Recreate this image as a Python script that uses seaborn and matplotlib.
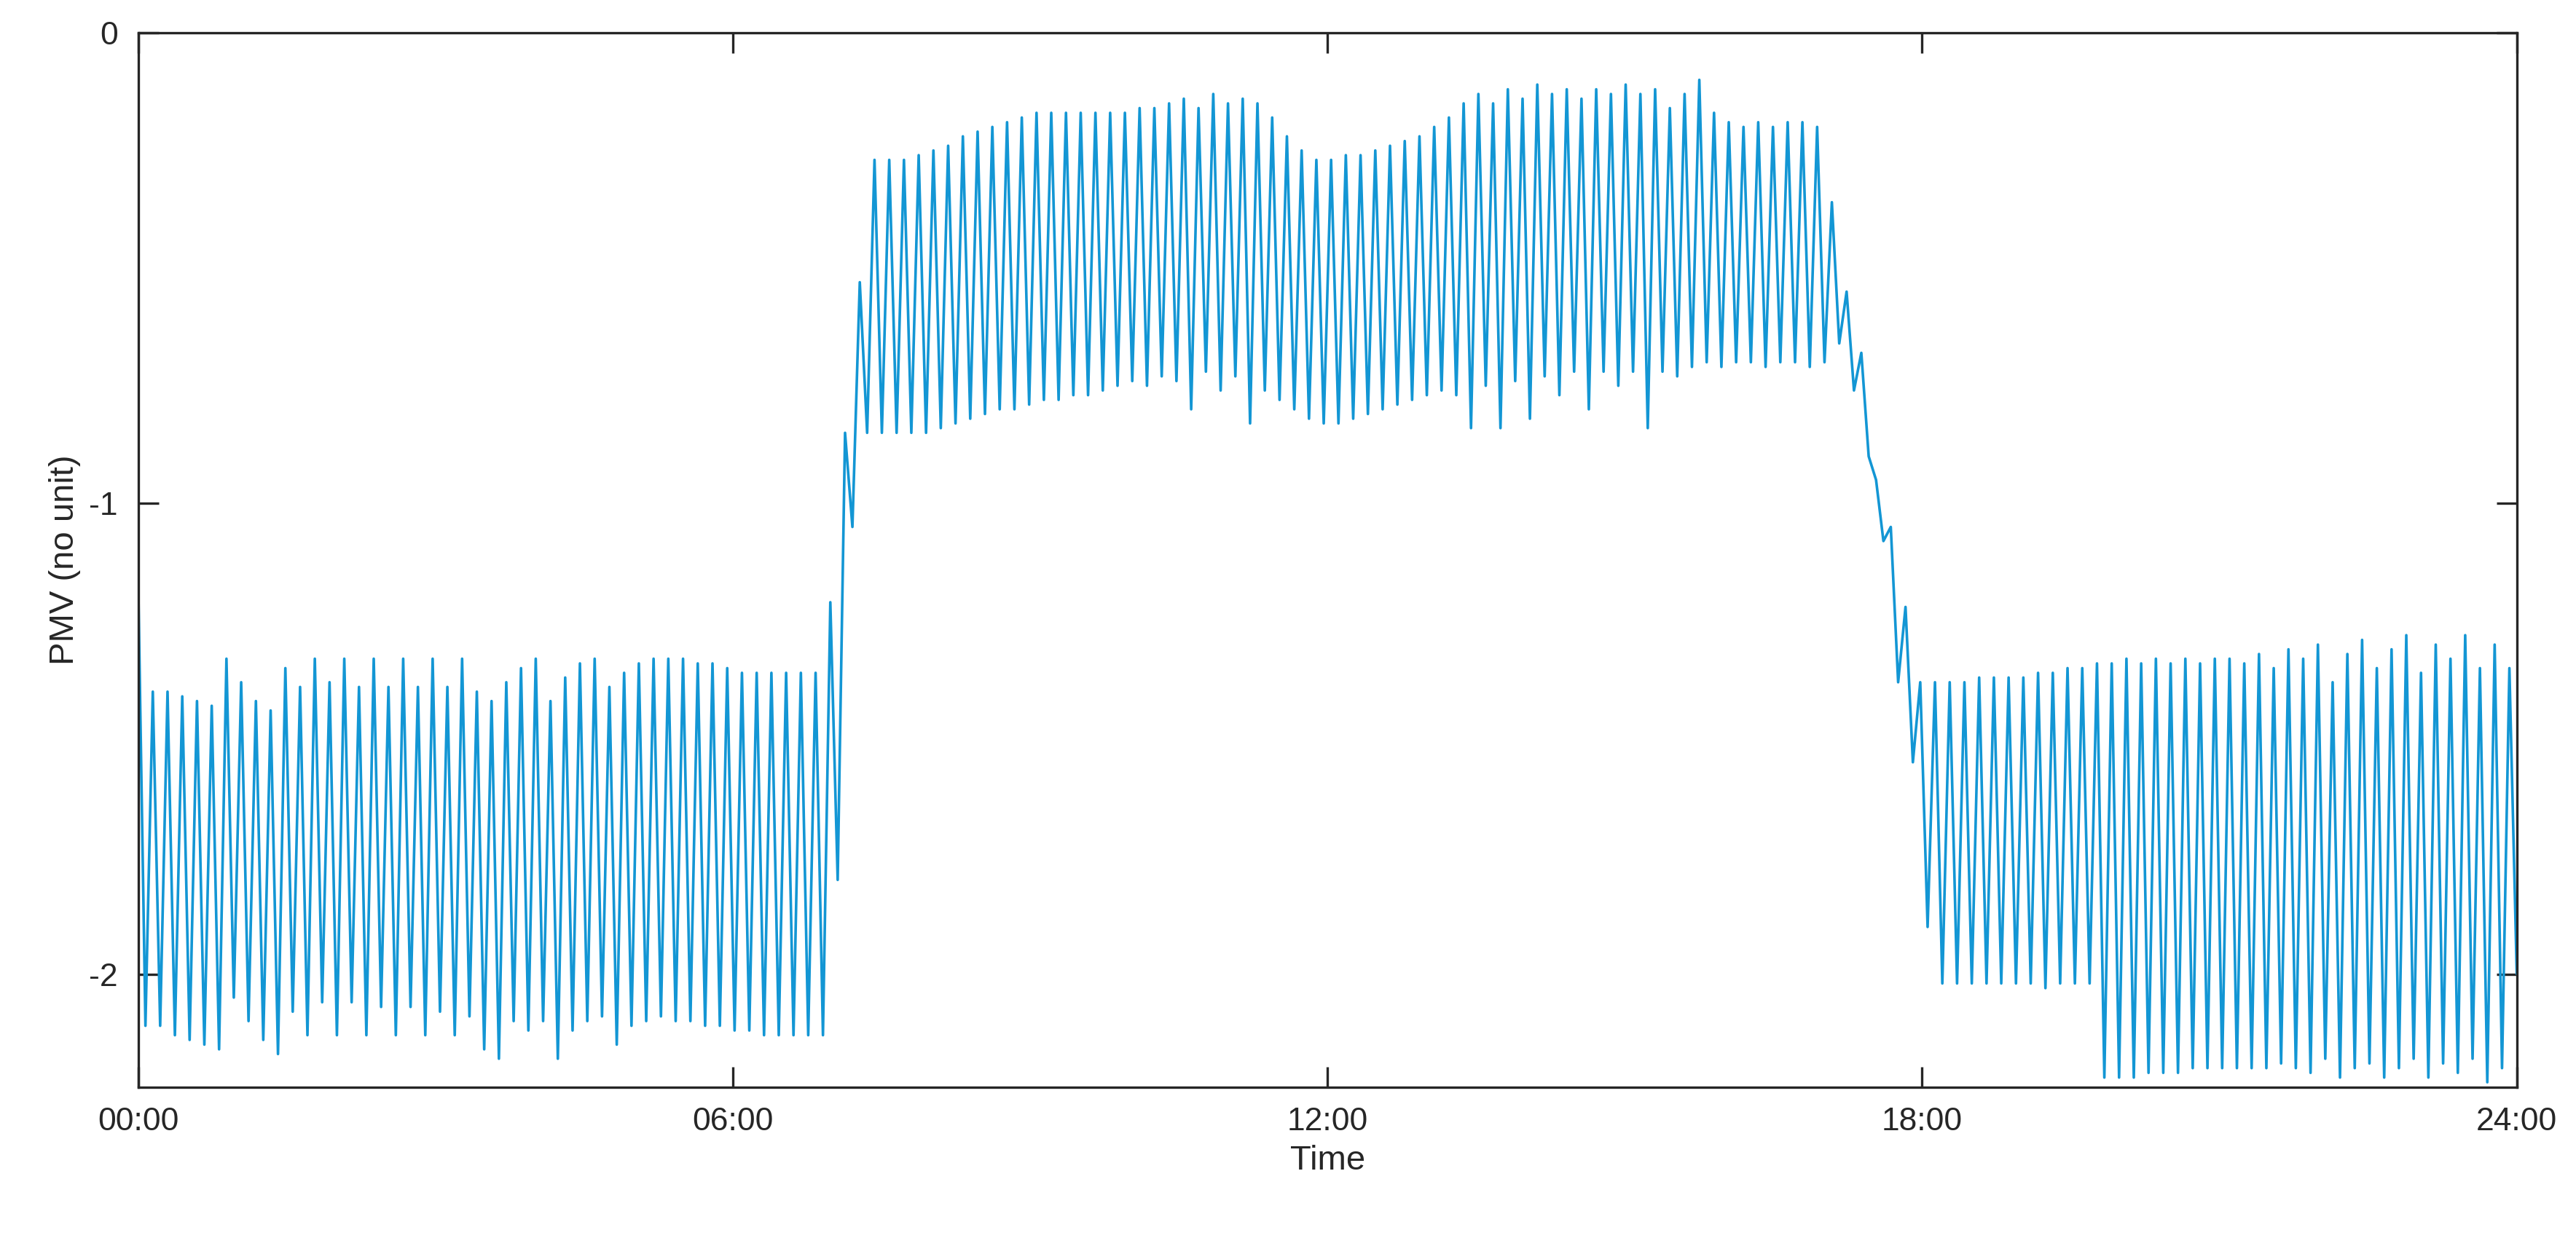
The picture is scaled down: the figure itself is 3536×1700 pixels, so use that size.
import numpy as np
import pandas as pd
import matplotlib
matplotlib.use("Agg")
import matplotlib.pyplot as plt
import seaborn as sns

# peak / trough of each ventilation cycle
night_peaks = [-1.15, -1.40, -1.40, -1.41, -1.42, -1.43, -1.33, -1.38, -1.42, -1.44, -1.35, -1.39,
               -1.33, -1.38, -1.33, -1.39, -1.33, -1.39, -1.33, -1.39, -1.33, -1.39, -1.33, -1.40,
               -1.42, -1.38, -1.35, -1.33, -1.42, -1.37, -1.34, -1.33, -1.39, -1.36, -1.34, -1.33,
               -1.33, -1.33, -1.34, -1.34, -1.35, -1.36, -1.36, -1.36, -1.36, -1.36, -1.36, -1.21,
               -0.85, -0.53]
night_troughs = [-2.11, -2.11, -2.13, -2.14, -2.15, -2.16, -2.05, -2.10, -2.14, -2.17, -2.08, -2.13,
                 -2.06, -2.13, -2.06, -2.13, -2.07, -2.13, -2.07, -2.13, -2.08, -2.13, -2.09, -2.16,
                 -2.18, -2.10, -2.12, -2.10, -2.18, -2.12, -2.10, -2.09, -2.15, -2.11, -2.10, -2.09,
                 -2.10, -2.10, -2.11, -2.11, -2.12, -2.12, -2.13, -2.13, -2.13, -2.13, -2.13, -1.80,
                 -1.05, -0.85]
day_peaks = [-0.27, -0.27, -0.27, -0.26, -0.25, -0.24, -0.22, -0.21, -0.20, -0.19, -0.18, -0.17,
             -0.17, -0.17, -0.17, -0.17, -0.17, -0.17, -0.16, -0.16, -0.15, -0.14, -0.16, -0.13,
             -0.15, -0.14, -0.15, -0.18, -0.22, -0.25, -0.27, -0.27, -0.26, -0.26, -0.25, -0.24,
             -0.23, -0.22, -0.20, -0.18, -0.15, -0.13, -0.15, -0.12, -0.14, -0.11, -0.13, -0.12,
             -0.14, -0.12, -0.13, -0.11, -0.13, -0.12, -0.16, -0.13, -0.10, -0.17, -0.19, -0.20,
             -0.19, -0.20, -0.19, -0.19, -0.20]
day_troughs = [-0.85, -0.85, -0.85, -0.85, -0.84, -0.83, -0.82, -0.81, -0.80, -0.80, -0.79, -0.78,
               -0.78, -0.77, -0.77, -0.76, -0.75, -0.74, -0.75, -0.73, -0.74, -0.80, -0.72, -0.76,
               -0.73, -0.83, -0.76, -0.78, -0.80, -0.82, -0.83, -0.83, -0.82, -0.81, -0.80, -0.79,
               -0.78, -0.77, -0.76, -0.77, -0.84, -0.75, -0.84, -0.74, -0.82, -0.73, -0.77, -0.72,
               -0.80, -0.72, -0.75, -0.72, -0.84, -0.72, -0.73, -0.71, -0.70, -0.71, -0.70, -0.70,
               -0.71, -0.70, -0.70, -0.71, -0.70]
evening_peaks = [-0.36, -0.55, -0.68, -0.95, -1.05, -1.22,
                 -1.38, -1.38, -1.38, -1.38, -1.37, -1.37, -1.37, -1.37, -1.36, -1.36, -1.35, -1.35,
                 -1.34, -1.34, -1.33, -1.34, -1.33, -1.34, -1.33, -1.34, -1.33, -1.33, -1.34, -1.32,
                 -1.35, -1.31, -1.33, -1.30, -1.38, -1.32, -1.29, -1.35, -1.31, -1.28, -1.36, -1.30,
                 -1.33, -1.28, -1.35, -1.30, -1.35]
evening_troughs = [-0.66, -0.76, -0.90, -1.08, -1.38, -1.55,
                   -1.90, -2.02, -2.02, -2.02, -2.02, -2.02, -2.02, -2.02, -2.03, -2.02, -2.02, -2.02,
                   -2.22, -2.22, -2.22, -2.21, -2.21, -2.21, -2.20, -2.20, -2.20, -2.20, -2.20, -2.20,
                   -2.19, -2.20, -2.21, -2.18, -2.22, -2.20, -2.19, -2.22, -2.20, -2.18, -2.22, -2.19,
                   -2.21, -2.18, -2.23, -2.20, -2.00]

pmv = []
for peaks, troughs in [(night_peaks, night_troughs), (day_peaks, day_troughs),
                       (evening_peaks, evening_troughs)]:
    for p, t in zip(peaks, troughs):
        pmv += [p, t]
hours = np.linspace(0, 24, len(pmv))
df = pd.DataFrame({"Time": hours, "PMV": pmv})

tick_hours = [0, 6, 12, 18, 24]
tick_labels = ["00:00", "06:00", "12:00", "18:00", "24:00"]

sns.set_style("white")
plt.rcParams["font.family"] = ["Liberation Sans", "DejaVu Sans"]

fig = plt.figure(figsize=(17.68, 8.5), dpi=200)
ax = fig.add_axes([0.0536, 0.122, 0.9234, 0.8515])
sns.lineplot(data=df, x="Time", y="PMV", ax=ax, color="#1396d4", lw=1.3, estimator=None)

ax.set_xlim(0, 24)
ax.set_ylim(-2.24, 0)
ax.set_xticks(tick_hours)
ax.set_xticklabels(tick_labels)
ax.set_yticks([-2, -1, 0])
ax.set_yticklabels(["-2", "-1", "0"])
ax.tick_params(direction="in", length=10, width=1.2, labelsize=16, top=True, right=True,
               bottom=True, left=True, pad=10, colors="#262626")
for s in ax.spines.values():
    s.set_visible(True)
    s.set_color("#262626")
    s.set_linewidth(1.2)
ax.set_xlabel("Time", fontsize=17)
ax.set_ylabel("PMV (no unit)", fontsize=17)
fig.savefig("out.png")
